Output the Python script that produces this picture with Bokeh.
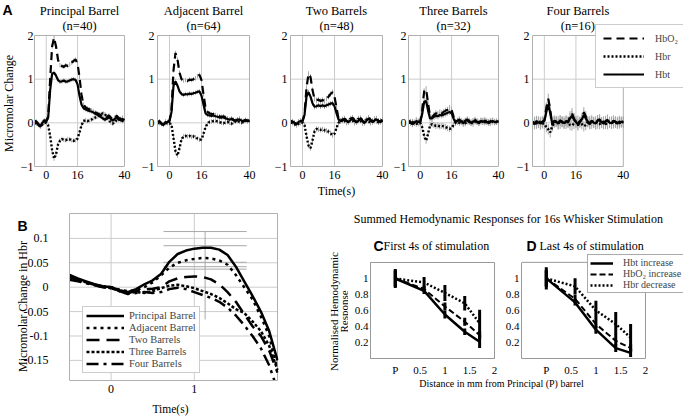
from bokeh.plotting import figure
from bokeh.models import Range1d, FixedTicker, Legend, LegendItem, Label
from bokeh.layouts import row, column
from bokeh.embed import file_html
from bokeh.resources import INLINE

SERIF = "Liberation Serif"
SANS = "Liberation Sans"
GRID = "#cccccc"
FRAME = "#b0b0b0"
ERRC = "#a8a8a8"

# ---------------- Panel A data ----------------
A_T = [-6, -5, -4, -3, -2, -1, 0, 1, 2, 3, 4, 5, 6, 7, 8, 9, 10, 11, 12, 13, 14, 15, 16,
       17, 18, 19, 20, 21, 22, 23, 24, 25, 26, 27, 28, 29, 30, 31, 32, 33, 34, 35, 36, 37,
       38, 39, 40]
A_TITLES = ["Principal Barrel", "Adjacent Barrel", "Two Barrels", "Three Barrels", "Four Barrels"]
A_N = ["(n=40)", "(n=64)", "(n=48)", "(n=32)", "(n=16)"]
A_ERR = [0.05, 0.05, 0.06, 0.07, 0.12]
A_XTICKS = [0, 16, 40]
A_YTICKS = [-1, 0, 1, 2]
A_XLIM = (-6, 40)
A_YLIM = (-1, 2)

P_HBO2 = [0.05, 0.03, -0.03, -0.06, 0.02, 0.06, 0.04, 0.15, 1.0, 1.75,
          1.95, 1.75, 1.45, 1.32, 1.3, 1.28, 1.32, 1.3, 1.34, 1.38,
          1.42, 1.45, 1.35, 1.05, 0.65, 0.42, 0.36, 0.33, 0.31, 0.29,
          0.27, 0.24, 0.22, 0.2, 0.17, 0.14, 0.1, 0.13, 0.17, 0.12,
          0.08, 0.12, 0.16, 0.11, 0.09, 0.12, 0.08]
P_HBT = [0.03, 0.01, -0.05, -0.09, 0.0, 0.04, 0.03, 0.12, 0.75, 1.12,
         1.15, 1.08, 0.98, 0.94, 0.95, 0.97, 0.94, 0.95, 0.97, 0.99,
         1.0, 0.98, 0.88, 0.62, 0.42, 0.34, 0.31, 0.29, 0.27, 0.26,
         0.24, 0.21, 0.19, 0.16, 0.13, 0.1, 0.07, 0.1, 0.14, 0.09,
         0.05, 0.09, 0.12, 0.07, 0.06, 0.09, 0.06]
P_HBR = [0.0, -0.02, -0.04, -0.07, -0.04, 0.0, 0.0, -0.06, -0.3, -0.62,
         -0.82, -0.72, -0.5, -0.41, -0.37, -0.39, -0.4, -0.37, -0.38, -0.4,
         -0.41, -0.4, -0.36, -0.22, -0.06, 0.04, 0.06, 0.04, 0.05, 0.07,
         0.1, 0.12, 0.14, 0.17, 0.2, 0.22, 0.2, 0.14, 0.06, 0.01,
         -0.02, 0.02, 0.06, 0.1, 0.07, 0.04, 0.06]

ADJ_HBO2 = [0.02, 0.04, -0.02, -0.04, 0.03, 0.02, 0.05, 0.3, 1.2, 1.6,
            1.45, 1.15, 1.0, 0.97, 0.98, 0.96, 0.99, 0.98, 1.0, 1.02,
            1.07, 1.1, 0.98, 0.65, 0.35, 0.25, 0.22, 0.2, 0.2, 0.18,
            0.16, 0.15, 0.14, 0.15, 0.12, 0.1, 0.08, 0.1, 0.07, 0.05,
            0.08, 0.1, 0.06, 0.04, 0.07, 0.05, 0.06]
ADJ_HBT = [0.02, 0.03, -0.03, -0.05, 0.02, 0.01, 0.04, 0.25, 0.85, 0.95,
           0.85, 0.72, 0.66, 0.64, 0.66, 0.65, 0.67, 0.66, 0.68, 0.69,
           0.71, 0.72, 0.62, 0.42, 0.22, 0.18, 0.17, 0.16, 0.17, 0.15,
           0.14, 0.12, 0.12, 0.13, 0.1, 0.09, 0.07, 0.09, 0.06, 0.04,
           0.07, 0.08, 0.05, 0.03, 0.06, 0.04, 0.05]
ADJ_HBR = [0.0, -0.01, -0.02, -0.03, -0.01, -0.01, -0.01, -0.05, -0.35, -0.65,
           -0.75, -0.58, -0.38, -0.31, -0.3, -0.31, -0.3, -0.32, -0.31, -0.33,
           -0.36, -0.39, -0.38, -0.25, -0.1, -0.02, 0.02, 0.03, 0.04, 0.05,
           0.03, 0.02, 0.0, -0.01, 0.01, 0.02, 0.0, -0.02, 0.01, 0.03,
           0.05, 0.02, 0.0, 0.03, 0.05, 0.03, 0.04]

TWO_HBO2 = [0.05, 0.03, 0.0, -0.04, 0.02, 0.05, 0.04, 0.2, 0.8, 1.12,
            1.05, 0.75, 0.55, 0.52, 0.53, 0.5, 0.52, 0.5, 0.55, 0.6,
            0.66, 0.7, 0.6, 0.35, 0.1, 0.05, 0.06, 0.1, 0.05, 0.02,
            0.08, 0.12, 0.06, 0.02, 0.07, 0.11, 0.05, 0.0, 0.06, 0.12,
            0.07, 0.02, 0.06, 0.1, 0.05, 0.03, 0.06]
TWO_HBT = [0.04, 0.02, 0.0, -0.03, 0.02, 0.04, 0.03, 0.18, 0.6, 0.7,
           0.6, 0.45, 0.37, 0.38, 0.4, 0.38, 0.4, 0.38, 0.4, 0.42,
           0.44, 0.45, 0.38, 0.22, 0.08, 0.04, 0.05, 0.08, 0.04, 0.02,
           0.06, 0.1, 0.05, 0.01, 0.05, 0.09, 0.04, 0.0, 0.05, 0.1,
           0.06, 0.02, 0.05, 0.08, 0.04, 0.02, 0.05]
TWO_HBR = [0.0, 0.0, -0.03, -0.05, -0.02, 0.0, 0.0, -0.05, -0.3, -0.52,
           -0.58, -0.4, -0.2, -0.14, -0.15, -0.16, -0.15, -0.17, -0.18, -0.2,
           -0.24, -0.28, -0.25, -0.12, 0.0, 0.04, 0.08, 0.05, 0.0, 0.03,
           0.1, 0.06, 0.0, 0.04, 0.1, 0.05, -0.01, 0.03, 0.08, 0.04,
           0.0, 0.05, 0.09, 0.04, 0.01, 0.05, 0.06]

THREE_HBO2 = [0.05, 0.02, -0.03, 0.0, 0.06, 0.03, 0.02, 0.3, 0.72, 0.77,
              0.45, 0.15, 0.12, 0.18, 0.22, 0.2, 0.24, 0.22, 0.25, 0.28,
              0.3, 0.34, 0.3, 0.15, 0.02, 0.05, 0.08, 0.02, -0.02, 0.05,
              0.08, 0.03, 0.0, 0.04, 0.07, 0.02, 0.0, 0.05, 0.03, 0.06,
              0.02, 0.0, 0.04, 0.05, 0.02, 0.03, 0.04]
THREE_HBT = [0.04, 0.02, -0.02, 0.0, 0.04, 0.02, 0.02, 0.2, 0.48, 0.5,
             0.28, 0.1, 0.1, 0.14, 0.16, 0.15, 0.18, 0.17, 0.19, 0.21,
             0.23, 0.25, 0.22, 0.1, 0.02, 0.04, 0.06, 0.02, -0.01, 0.04,
             0.06, 0.02, 0.0, 0.03, 0.05, 0.02, 0.0, 0.04, 0.02, 0.05,
             0.02, 0.0, 0.03, 0.04, 0.02, 0.02, 0.03]
THREE_HBR = [0.0, 0.0, 0.02, 0.0, -0.02, -0.01, 0.0, -0.1, -0.3, -0.41,
             -0.25, -0.06, -0.03, -0.05, -0.07, -0.06, -0.08, -0.07, -0.08, -0.1,
             -0.12, -0.14, -0.12, -0.05, 0.0, 0.02, 0.0, 0.04, 0.02, -0.01,
             0.03, 0.05, 0.01, -0.02, 0.03, 0.04, 0.0, 0.03, 0.05, 0.01,
             0.03, 0.02, 0.0, 0.03, 0.01, 0.02, 0.02]

FOUR_HBO2 = [0.02, -0.03, 0.04, 0.0, -0.04, 0.03, 0.05, 0.35, 0.55, 0.3,
             -0.05, 0.05, 0.02, -0.04, 0.06, 0.02, -0.02, 0.05, 0.0, 0.15,
             0.22, 0.1, 0.0, -0.06, 0.02, 0.1, 0.24, 0.15, 0.02, -0.03,
             0.05, 0.0, -0.04, 0.06, 0.08, 0.0, -0.03, 0.04, 0.07, 0.0,
             -0.02, 0.05, 0.03, -0.02, 0.04, 0.02, 0.03]
FOUR_HBT = [0.03, -0.02, 0.03, 0.01, -0.02, 0.02, 0.04, 0.25, 0.42, 0.22,
            -0.02, 0.04, 0.03, -0.02, 0.05, 0.03, -0.01, 0.04, 0.02, 0.1,
            0.16, 0.08, 0.02, -0.03, 0.02, 0.08, 0.18, 0.1, 0.03, -0.02,
            0.04, 0.01, -0.02, 0.05, 0.06, 0.01, -0.02, 0.03, 0.05, 0.01,
            -0.01, 0.04, 0.02, -0.01, 0.03, 0.02, 0.02]
FOUR_HBR = [0.0, 0.02, -0.02, 0.03, 0.02, -0.01, -0.02, -0.1, -0.15, -0.22,
            -0.08, 0.0, 0.03, 0.04, -0.02, 0.02, 0.03, -0.02, 0.03, -0.05,
            -0.06, -0.02, 0.04, 0.05, 0.01, -0.03, -0.08, -0.05, 0.02, 0.04,
            -0.02, 0.02, 0.03, -0.02, -0.03, 0.01, 0.03, -0.02, -0.03, 0.02,
            0.03, -0.01, 0.0, 0.02, -0.01, 0.01, 0.0]
A_LEGEND = ["HbO\u2082", "Hbr", "Hbt"]

# ---------------- Panel B data ----------------
B_T = [-0.5, -0.4, -0.3, -0.2, -0.1, 0.0, 0.1, 0.2, 0.3, 0.4, 0.5, 0.6, 0.7, 0.8, 0.9,
       1.0, 1.1, 1.2, 1.3, 1.4, 1.5, 1.6, 1.7, 1.8, 1.9, 2.0]
B_PRINCIPAL = [0.025, 0.018, 0.012, 0.006, 0.002, 0.0, -0.006, -0.01, -0.004, 0.006,
               0.014, 0.027, 0.052, 0.068, 0.075, 0.079, 0.081, 0.081, 0.077, 0.066,
               0.042, 0.012, -0.018, -0.05, -0.09, -0.15]
B_ADJACENT = [0.02, 0.016, 0.01, 0.005, 0.002, 0.0, -0.005, -0.008, -0.006, 0.0,
              0.01, 0.024, 0.04, 0.05, 0.055, 0.058, 0.06, 0.059, 0.055, 0.046,
              0.025, 0.0, -0.025, -0.06, -0.1, -0.17]
B_TWO = [0.02, 0.015, 0.01, 0.005, 0.002, 0.0, -0.008, -0.012, -0.008, -0.005,
         -0.003, 0.0, 0.012, 0.018, 0.021, 0.022, 0.021, 0.016, 0.006, -0.01,
         -0.03, -0.055, -0.08, -0.1, -0.13, -0.175]
B_THREE = [0.018, 0.014, 0.01, 0.005, 0.0, -0.002, -0.008, -0.012, -0.01, -0.012,
           -0.008, -0.002, 0.003, 0.005, 0.002, -0.002, -0.008, -0.014, -0.022, -0.033,
           -0.045, -0.053, -0.07, -0.09, -0.12, -0.17]
B_FOUR = [0.015, 0.012, 0.008, 0.004, 0.0, -0.002, -0.008, -0.014, -0.012, -0.01,
          -0.012, -0.01, -0.004, -0.001, -0.004, -0.01, -0.016, -0.022, -0.03, -0.042,
          -0.058, -0.078, -0.1, -0.125, -0.16, -0.21]
B_LABELS = ["Principal Barrel", "Adjacent Barrel", "Two Barrels", "Three Barrels", "Four Barrels"]
B_XTICKS = [0, 1]
B_YTICKS = [-0.15, -0.1, -0.05, 0, 0.05, 0.1]
B_YTICK_LABELS = ["-0.15", "-0.1", "-0.05", "0", "0.05", "0.1"]
B_XLIM = (-0.5, 2.0)
B_YTOP = 0.151
B_ERR_X = 1.13
B_ERR_LO = -0.066
B_ERR_HI = 0.114
B_CAP_Y = [0.114, 0.085, 0.051, 0.042, 0.037]
B_CAP_HALF = 0.5

# ---------------- Panels C / D data ----------------
CD_X = [0, 0.58, 1.0, 1.4, 1.7]
CD_XTICKS = [0, 0.5, 1, 1.5, 2]
CD_XTICK_LABELS = ["P", "0.5", "1", "1.5", "2"]
CD_YTICKS = [0.2, 0.4, 0.6, 0.8, 1.0]
CD_YTICK_LABELS = ["0.2", "0.4", "0.6", "0.8", "1"]
CD_XLIM = (-0.5, 2.0)
CD_YLIM = (0.0, 1.2)
C_HBT = [1.0, 0.845, 0.55, 0.335, 0.21]
C_HBO2 = [1.0, 0.87, 0.65, 0.46, 0.29]
C_HBR = [1.0, 0.95, 0.82, 0.69, 0.44]
C_HBT_ERR = [0.1, 0.04, 0.05, 0.04, 0.08]
C_HBO2_ERR = [0.1, 0.04, 0.05, 0.05, 0.05]
C_HBR_ERR = [0.12, 0.07, 0.1, 0.09, 0.17]
D_HBT = [1.0, 0.70, 0.36, 0.13, 0.07]
D_HBO2 = [1.0, 0.745, 0.43, 0.22, 0.13]
D_HBR = [1.0, 0.9, 0.6, 0.43, 0.26]
D_HBT_ERR = [0.1, 0.04, 0.05, 0.05, 0.05]
D_HBO2_ERR = [0.1, 0.05, 0.05, 0.06, 0.05]
D_HBR_ERR = [0.14, 0.1, 0.12, 0.15, 0.17]
CD_LEGEND = ["Hbt increase", "HbO\u2082 increase", "Hbr decrease"]


def base_fig(width, height, xr, yr, bl, br, bt, bb):
    p = figure(width=width, height=height, x_range=Range1d(*xr), y_range=Range1d(*yr),
               output_backend="svg", toolbar_location=None, title=None,
               min_border_left=bl, min_border_right=br, min_border_top=bt, min_border_bottom=bb)
    p.frame_align = False
    p.outline_line_color = FRAME
    p.axis.axis_line_color = FRAME
    p.axis.major_tick_in = 0
    p.axis.major_tick_out = 0
    p.axis.minor_tick_in = 0
    p.axis.minor_tick_out = 0
    p.axis.major_label_text_font = SERIF
    p.axis.major_label_text_color = "black"
    p.grid.grid_line_color = GRID
    return p


def blank(width, height):
    p = figure(width=width, height=height, x_range=Range1d(0, width), y_range=Range1d(height, 0),
               output_backend="svg", toolbar_location=None, title=None,
               x_axis_type=None, y_axis_type=None, min_border=0)
    p.frame_align = False
    p.outline_line_color = None
    return p


def txt(p, x, y, text, size="13px", font=SERIF, style="normal", align="center",
        baseline="middle", angle=0):
    p.add_layout(Label(x=x, y=y, text=text, text_font=font, text_font_size=size,
                       text_font_style=style, text_align=align, text_baseline=baseline,
                       angle=angle, angle_units="deg", text_color="black"))


# ---------------- Panel A ----------------
A_H = 184          # figure height (frame reaches the top, titles drawn inside it)
A_PXU = 131 / 3.0  # pixels per unit in y


def a_panel(i, width, bl, br, ystand, hbo2, hbr, hbt):
    frame_w = width - bl - br
    x_end = A_XLIM[0] + frame_w / 2.0
    y_top = A_YLIM[1] + 35 / A_PXU
    p = base_fig(width, A_H, (A_XLIM[0], x_end), (A_YLIM[0], y_top), bl, br, 0, 18)
    p.outline_line_color = None
    p.grid.visible = False
    p.xaxis.ticker = FixedTicker(ticks=A_XTICKS)
    p.yaxis.ticker = FixedTicker(ticks=A_YTICKS)
    p.xaxis.bounds = A_XLIM
    p.yaxis.bounds = A_YLIM
    p.axis.major_label_text_font_size = "12px"
    p.xaxis.major_label_standoff = 4
    p.yaxis.major_label_standoff = ystand
    gx = [t for t in A_XTICKS if A_XLIM[0] < t < A_XLIM[1]]
    gy = [t for t in A_YTICKS if A_YLIM[0] < t < A_YLIM[1]]
    p.segment(gx, [A_YLIM[0]] * len(gx), gx, [A_YLIM[1]] * len(gx), color=GRID, line_width=1)
    p.segment([A_XLIM[0]] * len(gy), gy, [A_XLIM[1]] * len(gy), gy, color=GRID, line_width=1)
    p.segment([A_XLIM[0], A_XLIM[1]], [A_YLIM[1], A_YLIM[0]], [A_XLIM[1], A_XLIM[1]],
              [A_YLIM[1], A_YLIM[1]], color=FRAME, line_width=1)
    e = A_ERR[i]
    for ys in (hbo2, hbr, hbt):
        p.segment(A_T, [v - e for v in ys], A_T, [v + e for v in ys], color=ERRC, line_width=1)
    r_o = p.line(A_T, hbo2, color="black", line_width=2.2, line_dash="8 5")
    r_r = p.line(A_T, hbr, color="black", line_width=2.4, line_dash="2 2")
    r_t = p.line(A_T, hbt, color="black", line_width=2.2)
    xc = (A_XLIM[0] + A_XLIM[1]) / 2.0
    txt(p, xc, y_top - 10 / A_PXU, A_TITLES[i], size="12.5px")
    txt(p, xc, y_top - 25 / A_PXU, A_N[i], size="12.5px")
    return p, (r_o, r_r, r_t)


strip_a = blank(17, A_H)
txt(strip_a, 2, 1, "A", size="14px", font=SANS, style="bold", align="left", baseline="top")
txt(strip_a, 8, 103, "Micromolar Change", size="12px", angle=90)

a1, _ = a_panel(0, 120, 15, 12, 1, P_HBO2, P_HBR, P_HBT)
a2, _ = a_panel(1, 133, 20, 20, 3, ADJ_HBO2, ADJ_HBR, ADJ_HBT)
a3, _ = a_panel(2, 120, 20, 7, 3, TWO_HBO2, TWO_HBR, TWO_HBT)
a4, _ = a_panel(3, 123, 16, 14, 2, THREE_HBO2, THREE_HBR, THREE_HBT)
a5, a5r = a_panel(4, 170, 17, 0, 3, FOUR_HBO2, FOUR_HBR, FOUR_HBT)

leg_a = Legend(items=[LegendItem(label=A_LEGEND[k], renderers=[a5r[k]]) for k in range(3)],
               location=(63, 78))
leg_a.glyph_width = 41
leg_a.glyph_height = 12
leg_a.label_standoff = 11
leg_a.spacing = 6
leg_a.padding = 7
leg_a.margin = 0
leg_a.label_text_font = SERIF
leg_a.label_text_font_size = "10px"
leg_a.border_line_color = "#999999"
a5.add_layout(leg_a)

time_a = blank(683, 14)
txt(time_a, 336, 6, "Time(s)", size="12px")

row1 = column(row(strip_a, a1, a2, a3, a4, a5), time_a)

# ---------------- Panel B ----------------
# The frame spans the whole figure width; the y axis is drawn at a fixed data location.
B_XPU = 208 / 2.5
B_YPU = 488.0
B_W, B_H, B_BR, B_BB = 300, 201, 22, 19
bx0 = B_XLIM[0] - 69 / B_XPU
bx1 = bx0 + (B_W - B_BR) / B_XPU
by1 = B_YTOP + 15 / B_YPU
by0 = by1 - (B_H - B_BB) / B_YPU
pb = base_fig(B_W, B_H, (bx0, bx1), (by0, by1), 0, B_BR, 0, B_BB)
pb.outline_line_color = None
pb.grid.visible = False
pb.xaxis.ticker = FixedTicker(ticks=B_XTICKS)
pb.yaxis.ticker = FixedTicker(ticks=B_YTICKS)
pb.yaxis.major_label_overrides = {t: s for t, s in zip(B_YTICKS, B_YTICK_LABELS)}
pb.yaxis.fixed_location = B_XLIM[0]
pb.yaxis.bounds = (by0, B_YTOP)
pb.xaxis.bounds = B_XLIM
pb.axis.major_label_text_font_size = "12px"
pb.xaxis.major_label_standoff = 4
pb.yaxis.major_label_standoff = 21
pb.segment(B_XTICKS, [by0] * len(B_XTICKS), B_XTICKS, [B_YTOP] * len(B_XTICKS),
           color=GRID, line_width=1)
pb.segment([B_XLIM[0]] * len(B_YTICKS), B_YTICKS, [B_XLIM[1]] * len(B_YTICKS), B_YTICKS,
           color=GRID, line_width=1)
pb.segment([B_XLIM[0], B_XLIM[1]], [B_YTOP, by0], [B_XLIM[1], B_XLIM[1]], [B_YTOP, B_YTOP],
           color=FRAME, line_width=1)
pb.segment([B_ERR_X], [B_ERR_LO], [B_ERR_X], [B_ERR_HI], color=ERRC, line_width=1)
pb.segment([B_ERR_X - B_CAP_HALF] * len(B_CAP_Y), B_CAP_Y,
           [B_ERR_X + B_CAP_HALF] * len(B_CAP_Y), B_CAP_Y, color=ERRC, line_width=1)
b_series = [B_PRINCIPAL, B_ADJACENT, B_TWO, B_THREE, B_FOUR]
b_dash = ["solid", "3 4", "13 7", "3 2", "12 5 3 5"]
b_r = []
for ys, d in zip(b_series, b_dash):
    b_r.append(pb.line(B_T, ys, color="black", line_width=2.5, line_dash=d, line_join="round"))
leg_b = Legend(items=[LegendItem(label=B_LABELS[k], renderers=[b_r[k]]) for k in range(5)],
               location=(82, 7))
leg_b.glyph_width = 38
leg_b.glyph_height = 11
leg_b.label_height = 11
leg_b.label_standoff = 5
leg_b.spacing = 1
leg_b.padding = 3
leg_b.margin = 0
leg_b.label_text_font = SERIF
leg_b.label_text_font_size = "10.5px"
leg_b.border_line_color = "#999999"
pb.add_layout(leg_b)
txt(pb, bx0 + 17 / B_XPU, by1 - 19 / B_YPU, "B", size="14px", font=SANS, style="bold",
    align="left", baseline="top")
txt(pb, bx0 + 22 / B_XPU, by1 - 108 / B_YPU, "Micromolar Change in Hbr", size="12px", angle=90)

time_b = blank(B_W, 17)
txt(time_b, 170, 9, "Time(s)", size="11.5px")

col_b = column(pb, time_b)


# ---------------- Panels C / D ----------------
CD_PXU = 98 / 1.2


def cd_panel(width, bl, br, bt, hbt, hbo2, hbr, et, eo, er, wide=False):
    frame_w = width - bl - br
    x_end = CD_XLIM[0] + frame_w / 49.6
    y_top = CD_YLIM[1] + (8 - bt) / CD_PXU
    p = base_fig(width, 124, (CD_XLIM[0], x_end), (CD_YLIM[0], y_top), bl, br, bt, 18)
    p.outline_line_color = "#999999"
    p.axis.axis_line_color = "#999999"
    p.grid.visible = False
    p.xaxis.ticker = FixedTicker(ticks=CD_XTICKS)
    p.yaxis.ticker = FixedTicker(ticks=CD_YTICKS)
    p.xaxis.major_label_overrides = {t: s for t, s in zip(CD_XTICKS, CD_XTICK_LABELS)}
    p.yaxis.major_label_overrides = {t: s for t, s in zip(CD_YTICKS, CD_YTICK_LABELS)}
    p.axis.major_label_text_font_size = "11px"
    p.xaxis.major_label_standoff = 5
    p.yaxis.major_label_standoff = 2
    if wide:
        p.outline_line_color = None
        p.xaxis.bounds = CD_XLIM
        p.yaxis.bounds = CD_YLIM
        p.segment([CD_XLIM[0], CD_XLIM[1]], [CD_YLIM[1], CD_YLIM[0]],
                  [CD_XLIM[1], CD_XLIM[1]], [CD_YLIM[1], CD_YLIM[1]],
                  color="#999999", line_width=1)
    for ys, es in ((hbt, et), (hbo2, eo), (hbr, er)):
        p.segment(CD_X, [v - e for v, e in zip(ys, es)], CD_X, [v + e for v, e in zip(ys, es)],
                  color="black", line_width=3)
    r_t = p.line(CD_X, hbt, color="black", line_width=2.5)
    r_o = p.line(CD_X, hbo2, color="black", line_width=2, line_dash="6 3")
    r_r = p.line(CD_X, hbr, color="black", line_width=2.5, line_dash="2 2")
    return p, (r_t, r_o, r_r)


strip_c = blank(48, 218)
txt(strip_c, 33, 113, "Normalised Hemodynamic", size="11px", angle=90)
txt(strip_c, 43, 113, "Response", size="11px", angle=90)

pc, _ = cd_panel(151, 22, 5, 8, C_HBT, C_HBO2, C_HBR, C_HBT_ERR, C_HBO2_ERR, C_HBR_ERR)
pd, pdr = cd_panel(184, 22, 0, 0, D_HBT, D_HBO2, D_HBR, D_HBT_ERR, D_HBO2_ERR, D_HBR_ERR,
                   wide=True)

leg_d = Legend(items=[LegendItem(label=CD_LEGEND[k], renderers=[pdr[k]]) for k in range(3)],
               location=(66, 65))
leg_d.glyph_width = 23
leg_d.glyph_height = 10
leg_d.label_height = 10
leg_d.label_standoff = 10
leg_d.spacing = 0
leg_d.padding = 2
leg_d.margin = 0
leg_d.label_text_font = SERIF
leg_d.label_text_font_size = "10px"
leg_d.border_line_color = "#555555"
pd.add_layout(leg_d)

header = blank(335, 56)
txt(header, 160, 20, "Summed Hemodynamic Responses for 16s Whisker Stimulation", size="12px")
txt(header, 25, 47, "C", size="14px", font=SANS, style="bold", align="left")
txt(header, 35, 47, "First 4s of stimulation", size="12px", align="left")
txt(header, 178, 47, "D", size="14px", font=SANS, style="bold", align="left")
txt(header, 191, 47, "Last 4s of stimulation", size="12px", align="left")

footer = blank(335, 38)
txt(footer, 153, 5, "Distance in mm from Principal (P) barrel", size="10px")

right = row(strip_c, column(header, row(pc, pd), footer))
row2 = row(col_b, right)
layout = column(row1, row2)

open("out.html", "w").write(file_html(layout, INLINE, title="Hemodynamic responses"))
